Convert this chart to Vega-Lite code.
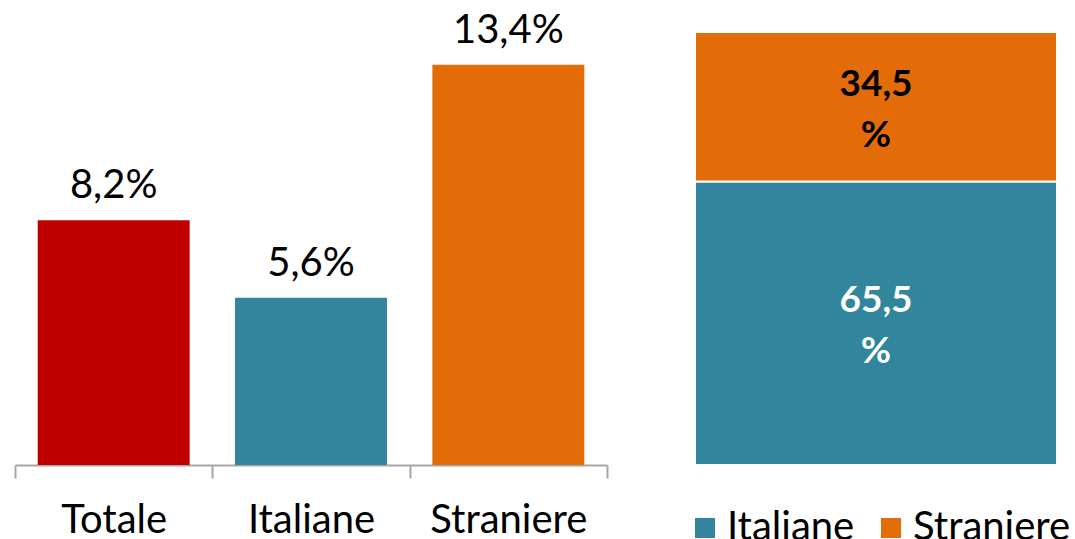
{
  "$schema": "https://vega.github.io/schema/vega-lite/v6.json",
  "padding": {"left": 14, "top": 10, "right": 0, "bottom": 0},
  "background": "white",
  "config": {
    "view": {"stroke": null},
    "font": "Lato",
    "text": {"font": "Lato"}
  },
  "spacing": 88,
  "bounds": "flush",
  "resolve": {"scale": {"color": "independent"}, "legend": {"color": "independent"}},
  "hconcat": [
    {
      "width": 592,
      "height": 433,
      "data": {
        "values": [
          {"categoria": "Totale", "valore": 8.2, "etichetta": "8,2%"},
          {"categoria": "Italiane", "valore": 5.6, "etichetta": "5,6%"},
          {"categoria": "Straniere", "valore": 13.4, "etichetta": "13,4%"}
        ]
      },
      "encoding": {
        "x": {
          "field": "categoria",
          "type": "nominal",
          "sort": ["Totale", "Italiane", "Straniere"],
          "scale": {"paddingInner": 0, "paddingOuter": 0},
          "axis": {
            "title": null,
            "labelAngle": 0,
            "labelFont": "Lato",
            "labelFontSize": 40,
            "labelColor": "#000000",
            "labelPadding": 22,
            "domainColor": "#A6A6A6",
            "domainWidth": 2,
            "tickColor": "#A6A6A6",
            "tickWidth": 2,
            "tickSize": 13,
            "tickBand": "extent"
          }
        },
        "y": {
          "field": "valore",
          "type": "quantitative",
          "scale": {"domain": [0, 14.5]},
          "axis": null
        }
      },
      "layer": [
        {
          "mark": {"type": "bar", "width": {"band": 0.77}},
          "encoding": {
            "color": {
              "field": "categoria",
              "type": "nominal",
              "scale": {"domain": ["Totale", "Italiane", "Straniere"], "range": ["#C00000", "#31859C", "#E36C09"]},
              "legend": null
            }
          }
        },
        {
          "mark": {"type": "text", "fontSize": 40, "baseline": "alphabetic", "dy": -22, "color": "#000000"},
          "encoding": {"text": {"field": "etichetta"}}
        }
      ]
    },
    {
      "width": 362,
      "height": 433,
      "data": {
        "values": [
          {"gruppo": "Donne", "tipo": "Italiane", "quota": 65.5, "etichetta": "65,5\n%"},
          {"gruppo": "Donne", "tipo": "Straniere", "quota": 34.5, "etichetta": "34,5\n%"}
        ]
      },
      "transform": [
        {"stack": "quota", "groupby": ["gruppo"], "sort": [{"field": "tipo", "order": "ascending"}], "as": ["q0", "q1"]},
        {"calculate": "(datum.q0 + datum.q1) / 2", "as": "qm"}
      ],
      "encoding": {
        "x": {
          "field": "gruppo",
          "type": "nominal",
          "scale": {"paddingInner": 0, "paddingOuter": 0},
          "axis": null
        }
      },
      "layer": [
        {
          "mark": {"type": "bar", "stroke": "#ffffff", "strokeWidth": 2},
          "encoding": {
            "y": {"field": "q0", "type": "quantitative", "scale": {"domain": [0, 100]}, "axis": null},
            "y2": {"field": "q1"},
            "color": {
              "field": "tipo",
              "type": "nominal",
              "scale": {"domain": ["Italiane", "Straniere"], "range": ["#31859C", "#E36C09"]},
              "legend": {
                "title": null,
                "orient": "none",
                "legendX": -10,
                "legendY": 476,
                "direction": "horizontal",
                "symbolType": "square",
                "symbolSize": 400,
                "symbolStrokeWidth": 0,
                "symbolOpacity": 1,
                "labelFont": "Lato",
                "labelFontSize": 40,
                "labelColor": "#000000",
                "labelOffset": 2,
                "columnPadding": 16,
                "padding": 0
              }
            }
          }
        },
        {
          "mark": {"type": "text", "fontSize": 37, "fontWeight": "bold", "lineBreak": "\n", "lineHeight": 51, "baseline": "middle", "align": "center", "dy": -22},
          "encoding": {
            "y": {"field": "qm", "type": "quantitative"},
            "text": {"field": "etichetta"},
            "fill": {"condition": {"test": "datum.tipo === 'Italiane'", "value": "#ffffff"}, "value": "#000000"}
          }
        }
      ]
    }
  ]
}
